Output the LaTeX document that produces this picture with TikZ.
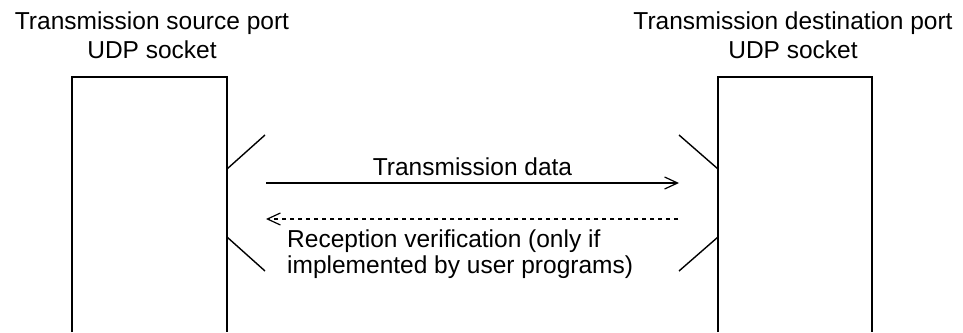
\documentclass[tikz,border=0pt]{standalone}
\usepackage{fontspec}
\setmainfont{Liberation Sans}
\usetikzlibrary{arrows.meta}
\begin{document}
\begin{tikzpicture}[x=1pt,y=-1pt,
  lbl/.style={inner sep=0pt,font=\fontsize{24.5}{26}\selectfont},
  hdr/.style={lbl,font=\fontsize{24.5}{29}\selectfont,align=center,anchor=base},
  port/.style={line width=1.4pt},
  tick/.style={line width=1.4pt},
  msg/.style={line width=1.2pt,-{Straight Barb[length=13pt,width=12pt,line width=1.2pt]}},
  ack/.style={msg,dash pattern=on 4pt off 4pt}]
\useasboundingbox (0,0) rectangle (963,332);
% port boxes (open at the bottom)
\coordinate (sbl) at (72,332);
\coordinate (stl) at (72,77);
\coordinate (str) at (227,77);
\coordinate (sbr) at (227,332);
\coordinate (dbl) at (718,332);
\coordinate (dtl) at (718,77);
\coordinate (dtr) at (872,77);
\coordinate (dbr) at (872,332);
\draw[port] (sbl) -- (stl) -- (str) -- (sbr);
\draw[port] (dbl) -- (dtl) -- (dtr) -- (dbr);
% labels
\node[hdr] (src) at (152,58) {Transmission source port\\UDP socket};
\node[hdr] (dst) at (793,58) {Transmission destination port\\UDP socket};
% ticks
\coordinate (s1a) at (227,169); \coordinate (s1b) at (265,135);
\coordinate (s2a) at (227,237); \coordinate (s2b) at (265,271);
\coordinate (d1a) at (718,169); \coordinate (d1b) at (679,135);
\coordinate (d2a) at (718,237); \coordinate (d2b) at (679,271);
\draw[tick] (s1a) -- (s1b);
\draw[tick] (s2a) -- (s2b);
\draw[tick] (d1a) -- (d1b);
\draw[tick] (d2a) -- (d2b);
% messages
\coordinate (tx0) at (266,183); \coordinate (tx1) at (679,183);
\coordinate (rx0) at (678,219); \coordinate (rx1) at (266,219);
\draw[msg] (tx0) -- node[lbl,above=7pt] (txl) {Transmission data} (tx1);
\draw[ack] (rx0) -- (rx1);
\node[lbl,align=left,anchor=base west] (rxl) at (287,273) {Reception verification (only if\\implemented by user programs)};
\end{tikzpicture}
\end{document}
